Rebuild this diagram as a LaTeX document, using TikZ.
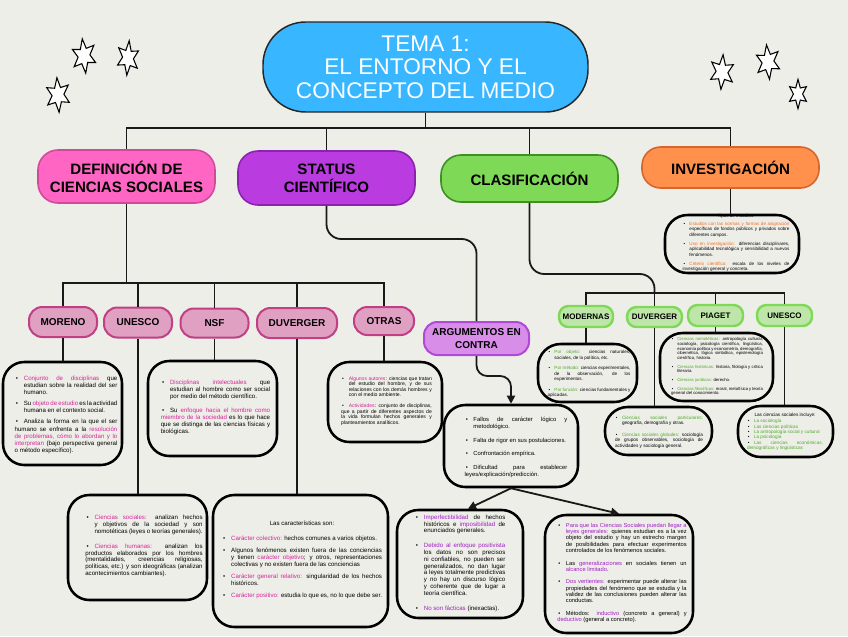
\documentclass[tikz,border=0pt]{standalone}
\usepackage{fontspec}
\setmainfont{Liberation Sans}
\usetikzlibrary{shapes.geometric,arrows.meta,calc}
\definecolor{bg}{HTML}{EEEEE8}
\definecolor{cblue}{HTML}{38B6FF}
\definecolor{cpink}{HTML}{FF66C4}
\definecolor{cpinkd}{HTML}{D04A9C}
\definecolor{cpur}{HTML}{BA3BE0}
\definecolor{cpurd}{HTML}{8E22B0}
\definecolor{cgrn}{HTML}{7ED957}
\definecolor{cgrnd}{HTML}{3F8F22}
\definecolor{corg}{HTML}{FF914D}
\definecolor{corgd}{HTML}{D6662C}
\definecolor{spink}{HTML}{E0A0C2}
\definecolor{spinkd}{HTML}{C13F84}
\definecolor{sarg}{HTML}{D88DE9}
\definecolor{sargd}{HTML}{B048D8}
\definecolor{sgrn}{HTML}{BDE6A8}
\definecolor{sgrnd}{HTML}{7ED957}
\definecolor{mag}{HTML}{D6249A}
\definecolor{pur}{HTML}{A21CC9}
\definecolor{grn}{HTML}{4DAA2A}
\definecolor{org}{HTML}{F26B1E}
\hyphenpenalty=10000
\exhyphenpenalty=10000
\tolerance=9999
\emergencystretch=2em
\newcommand\bpt[1][0pt]{\par\vspace{#1}\noindent\hangindent=1.5em\hangafter=1\makebox[1.5em][l]{\hspace{0.2em}•}\ignorespaces}
\begin{document}
\begin{tikzpicture}[x=0.75pt,y=-0.75pt,
  every node/.style={inner sep=0pt},
  sz/.style 2 args={minimum width=#1*0.75pt, minimum height=#2*0.75pt},
  conn/.style={draw=black!90, line width=1.35pt},
  arr/.style={-{Triangle[length=6pt,width=6pt]}},
  title/.style={fill=cblue, draw=black!85, line width=1.1pt, rounded corners=32pt, text=white, align=center, font=\fontsize{17}{17.5}\selectfont},
  cat/.style={line width=1.2pt, rounded corners=15pt, align=center, font=\bfseries\fontsize{11.3}{13.5}\selectfont},
  subp/.style={fill=spink, draw=spinkd, line width=1.5pt, rounded corners=10pt, align=center, font=\bfseries\fontsize{7.5}{9}\selectfont},
  subg/.style={fill=sgrn, draw=sgrnd, line width=1.8pt, rounded corners=7pt, align=center, font=\bfseries\fontsize{6}{7}\selectfont},
  tbox/.style={draw=black, fill=bg, line width=1.9pt, rounded corners=16pt},
  cbox/.style={draw=black, fill=bg, line width=1.9pt, rounded corners=17pt},
  txt/.style={align=justify, inner sep=0pt},
  tf/.style 2 args={font=\fontsize{#1}{#2}\selectfont},
  starsh/.style={star, star points=6, star point ratio=2.1, draw=black, line width=0.8pt, fill=white, minimum size=26pt, transform shape}
]
\useasboundingbox (0,0) rectangle (848,636);
\fill[bg] (0,0) rectangle (848,636);

% stars
\begin{scope}[shift={(84,56)},xscale=0.72]\node[starsh, shape border rotate=8] (s1) at (0,0) {};\end{scope}
\begin{scope}[shift={(128,58)},xscale=0.66]\node[starsh, shape border rotate=-6] (s2) at (0,0) {};\end{scope}
\begin{scope}[shift={(58,95)},xscale=0.72]\node[starsh, shape border rotate=5] (s3) at (0,0) {};\end{scope}
\begin{scope}[shift={(722,72)},xscale=0.72]\node[starsh, shape border rotate=-5] (s4) at (0,0) {};\end{scope}
\begin{scope}[shift={(768,62)},xscale=0.72]\node[starsh, shape border rotate=7] (s5) at (0,0) {};\end{scope}
\begin{scope}[shift={(798,94)},xscale=0.66]\node[starsh, shape border rotate=0, minimum size=22pt] (s6) at (0,0) {};\end{scope}

% title and categories
\node[title, sz={325}{90}] (title) at (425.5,67) {TEMA 1:\\EL ENTORNO Y EL\\CONCEPTO DEL MEDIO};
\node[cat, sz={177}{53}, fill=cpink, draw=cpinkd] (def) at (126.5,176.5) {DEFINICIÓN DE\\CIENCIAS SOCIALES};
\node[cat, sz={177}{54}, fill=cpur, draw=cpurd] (sta) at (326.5,178) {STATUS\\CIENTÍFICO};
\node[cat, sz={177}{47}, fill=cgrn, draw=cgrnd] (cla) at (529.5,178.5) {CLASIFICACIÓN};
\node[cat, sz={177}{41}, fill=corg, draw=corgd, rounded corners=14pt] (inv) at (730.5,167.5) {INVESTIGACIÓN};

\coordinate (tbar) at (0,128);
\draw[conn] (title.south) -- (title.south |- tbar);
\draw[conn] (def.north) |- (inv.north |- tbar) -- (inv.north);
\draw[conn] (sta.north) -- (sta.north |- tbar);
\draw[conn] (cla.north) -- (cla.north |- tbar);

% ---- DEFINICION subtree
\node[subp, sz={68}{30}] (mor) at (63,322) {MORENO};
\node[subp, sz={68}{30}] (une) at (138,322.5) {UNESCO};
\node[subp, sz={68}{29}] (nsf) at (214.5,323) {NSF};
\node[subp, sz={80}{30}] (duv) at (297,323) {DUVERGER};
\node[subp, sz={60}{28}] (otr) at (384,321) {OTRAS};
\coordinate (dbar) at (0,283);
\draw[conn] (def.south) -- (def.south |- dbar);
\draw[conn] (mor.north) |- (otr.north |- dbar) -- (otr.north);
\draw[conn] (une.north) -- (une.north |- dbar);
\draw[conn] (nsf.north) -- (nsf.north |- dbar);
\draw[conn] (duv.north) -- (duv.north |- dbar);

\node[tbox, sz={119}{103}] (morbox) at (62.5,413.5) {};
\node[tbox, sz={129}{95}] (nsfbox) at (212.5,408.5) {};
\node[tbox, sz={114}{80}] (otrbox) at (385,402) {};
\node[tbox, sz={139}{105}] (unebox) at (137.5,547.5) {};
\node[tbox, sz={175}{132}] (duvbox) at (300.5,561) {};
\draw[conn] (mor.south) -- (mor.south |- morbox.north);
\draw[conn] (nsf.south) -- (nsf.south |- nsfbox.north);
\draw[conn] (otr.south) -- (otr.south |- otrbox.north);
\draw[conn] (une.south) -- (une.south |- unebox.north);
\draw[conn] (duv.south) -- (duv.south |- duvbox.north);

\node[txt, tf={4.6}{5.3}, text width=77pt] (mortxt) at (66,413.5) {%
\bpt\textcolor{mag}{Conjunto de disciplinas} que estudian sobre la realidad del ser humano.
\bpt[3pt]Su \textcolor{mag}{objeto de estudio} es la actividad humana en el contexto social.
\bpt[3pt]Analiza la forma en la que el ser humano se enfrenta a la \textcolor{mag}{resolución de problemas, cómo lo abordan y lo interpretan} (bajo perspectiva general o método específico).};

\node[txt, tf={4.6}{5.3}, text width=82pt] (nsftxt) at (215.5,406) {%
\bpt\textcolor{mag}{Disciplinas intelectuales} que estudian al hombre como ser social por medio del método científico.
\bpt[5pt]Su \textcolor{mag}{enfoque hacia el hombre como miembro de la sociedad} es lo que hace que se distinga de las ciencias físicas y biológicas.};

\node[txt, tf={3.8}{4.1}, text width=68pt] (otrtxt) at (386.5,400) {%
\bpt\textcolor{mag}{Algunos autores}: ciencias que tratan del estudio del hombre, y de sus relaciones con los demás hombres y con el medio ambiente.
\bpt[4pt]\textcolor{mag}{Actividades}: conjunto de disciplinas, que a partir de diferentes aspectos de la vida formulan hechos generales y planteamientos analíticos.};

\node[txt, tf={4.6}{5.1}, text width=88pt] (unetxt) at (144,545) {%
\bpt\textcolor{mag}{Ciencias sociales:} analizan hechos y objetivos de la sociedad y son nomotéticas (leyes o teorías generales).
\bpt[6pt]\textcolor{mag}{Ciencias humanas:} analizan los productos elaborados por los hombres (mentalidades, creencias religiosas, políticas, etc.) y son ideográficas (analizan acontecimientos cambiantes).};

\node[txt, tf={4.6}{5.1}, text width=120pt] (duvtxt) at (302,560) {%
\centerline{Las características son:}\par\vspace{6pt}
\bpt\textcolor{mag}{Carácter colectivo:} hechos comunes a varios objetos.
\bpt[4pt]Algunos fenómenos existen fuera de las conciencias y tienen \textcolor{mag}{carácter objetivo}; y otros, representaciones colectivas y no existen fuera de las conciencias
\bpt[4pt]\textcolor{mag}{Carácter general relativo:} singularidad de los hechos históricos.
\bpt[4pt]\textcolor{mag}{Carácter positivo:} estudia lo que es, no lo que debe ser.};

% ---- STATUS subtree
\node[subp, sz={105}{33}, fill=sarg, draw=sargd, font=\bfseries\fontsize{7.5}{9.5}\selectfont] (arg) at (476.5,338.5) {ARGUMENTOS EN\\CONTRA};
\coordinate (k1) at (476.5,239);
\draw[conn, rounded corners=11pt] (sta.south) |- (k1) -- (arg.north);
\node[tbox, sz={134}{82}] (fal) at (511,446) {};
\coordinate (k2) at (511,376);
\draw[conn, arr, rounded corners=8pt] (arg.south) |- (k2) -- (fal.north);
\node[txt, tf={4.4}{5.3}, text width=77pt] (faltxt) at (516,446) {%
\bpt Fallos de carácter lógico y metodológico.
\bpt[5pt]Falta de rigor en sus postulaciones.
\bpt[5pt]Confrontación empírica.
\bpt[5pt]Dificultad para establecer leyes/explicación/predicción.};

\node[tbox, sz={126}{108}] (lft) at (460,564) {};
\node[tbox, sz={148}{118}] (rgt) at (619,574) {};
\draw[conn, arr] (fal.south) -- ([xshift=6pt]lft.north);
\draw[conn, arr] (fal.south) -- (rgt.north);

\node[txt, tf={4.6}{5.1}, text width=68pt] (lfttxt) at (460,562) {%
\bpt\textcolor{pur}{Imperfectibilidad} de hechos históricos e \textcolor{pur}{imposibilidad} de enunciados generales.
\bpt[6pt]\textcolor{pur}{Debido al enfoque positivista} los datos no son precisos ni confiables, no pueden ser generalizados, no dan lugar a leyes totalmente predictivas y no hay un discurso lógico y coherente que de lugar a teoría científica.
\bpt[6pt]\textcolor{pur}{No son fácticas} (inexactas).};

\node[txt, tf={4.3}{4.6}, text width=97pt] (rgttxt) at (622,572) {%
\bpt\textcolor{pur}{Para que las Ciencias Sociales puedan llegar a leyes generales:} quienes estudian es a la vez objeto del estudio y hay un estrecho margen de posibilidades para efectuar experimentos controlados de los fenómenos sociales.
\bpt[5pt]Las \textcolor{pur}{generalizaciones} en sociales tienen un \textcolor{pur}{alcance limitado}.
\bpt[5pt]\textcolor{pur}{Dos vertientes:} experimentar puede alterar las propiedades del fenómeno que se estudia y la validez de las conclusiones pueden alterar las conductas.
\bpt[5pt]Métodos: \textcolor{pur}{inductivo} (concreto a general) y \textcolor{pur}{deductivo} (general a concreto).};

% ---- CLASIFICACION subtree
\node[subg, sz={54}{21}] (mod) at (586,316.5) {MODERNAS};
\node[subg, sz={55}{20}] (cduv) at (654.5,317) {DUVERGER};
\node[subg, sz={55}{21}] (pia) at (715.5,315.5) {PIAGET};
\node[subg, sz={55}{21}] (cune) at (784.5,315.5) {UNESCO};
\coordinate (cbar) at (0,293);
\coordinate (k3) at (654.5,274);
\draw[conn, rounded corners=11pt] (cla.south) |- (k3) -- (cduv.north |- cbar);
\draw[conn] (mod.north) |- (cune.north |- cbar) -- (cune.north);
\draw[conn] (cduv.north |- cbar) -- (cduv.north);
\draw[conn] (pia.north) -- (pia.north |- cbar);

\node[cbox, sz={99}{58}] (modbox) at (587.5,373) {};
\node[cbox, sz={107}{48}] (cduvbox) at (658.5,431) {};
\node[cbox, sz={113}{68}] (piabox) at (716.5,367) {};
\node[cbox, sz={95}{51}] (cunebox) at (785.5,431.5) {};
\draw[conn] (mod.south) -- (mod.south |- modbox.north);
\draw[conn] (cduv.south) -- (cduv.south |- cduvbox.north);
\draw[conn] (pia.south) -- (pia.south |- piabox.north);
\draw[conn] (cune.south) -- (cune.south |- cunebox.north);

\node[txt, tf={3.4}{4.0}, text width=62pt] (modtxt) at (589,373) {%
\bpt\textcolor{grn}{Por objeto:} ciencias naturales, sociales, de la política, etc.
\bpt[4pt]\textcolor{grn}{Por método:} ciencias experimentales, de la observación, de los experimentos.
\bpt[4pt]\textcolor{grn}{Por función:} ciencias fundamentales y aplicadas.};

\node[txt, tf={3.2}{3.5}, text width=69pt] (piatxt) at (717,366) {%
\bpt\textcolor{grn}{Ciencias nomotéticas:} antropología cultural, sociología, psicología científica, lingüística, economía política y econometría, demografía, cibernética, lógica simbólica, epistemología científica, historia.
\bpt[3pt]\textcolor{grn}{Ciencias históricas:} historia, filología y crítica literaria.
\bpt[3pt]\textcolor{grn}{Ciencias jurídicas:} derecho.
\bpt[3pt]\textcolor{grn}{Ciencias filosóficas:} moral, metafísica y teoría general del conocimiento.};

\node[txt, tf={3.5}{4.4}, text width=66pt] (cduvtxt) at (659,431) {%
\bpt\textcolor{grn}{Ciencias sociales particulares:} geografía, demografía y otras.
\bpt[4pt]\textcolor{grn}{Ciencias sociales globales:} sociología de grupos observables, sociología de actividades y sociología general.};

\node[txt, tf={3.5}{4.0}, text width=57pt] (cunetxt) at (785,431.5) {%
\centerline{Las ciencias sociales incluye:}\par\vspace{1pt}
\bpt\textcolor{grn}{La sociología}
\bpt\textcolor{grn}{Las ciencias políticas}
\bpt\textcolor{grn}{La antropología social y cultural}
\bpt\textcolor{grn}{La psicología}
\bpt\textcolor{grn}{Las ciencias económicas, demográficas y lingüísticas}};

% ---- INVESTIGACION subtree
\node[cbox, sz={134}{58}] (invbox) at (732,244) {};
\draw[conn] (inv.south) -- (inv.south |- invbox.north);
\node[txt, tf={3.4}{4.0}, text width=80pt] (invtxt) at (736,243) {%
\centerline{Tipos de estudios:}\par\vspace{2pt}
\bpt\textcolor{org}{Estudios con las normas y formas de asignación} específicas de fondos públicos y privados sobre diferentes campos.
\bpt[3pt]\textcolor{org}{Uso en investigación:} diferencias disciplinares, aplicabilidad tecnológica y sensibilidad a nuevos fenómenos.
\bpt[3pt]\textcolor{org}{Criterio científico:} escala de los niveles de investigación general y concreta.};
\end{tikzpicture}
\end{document}
